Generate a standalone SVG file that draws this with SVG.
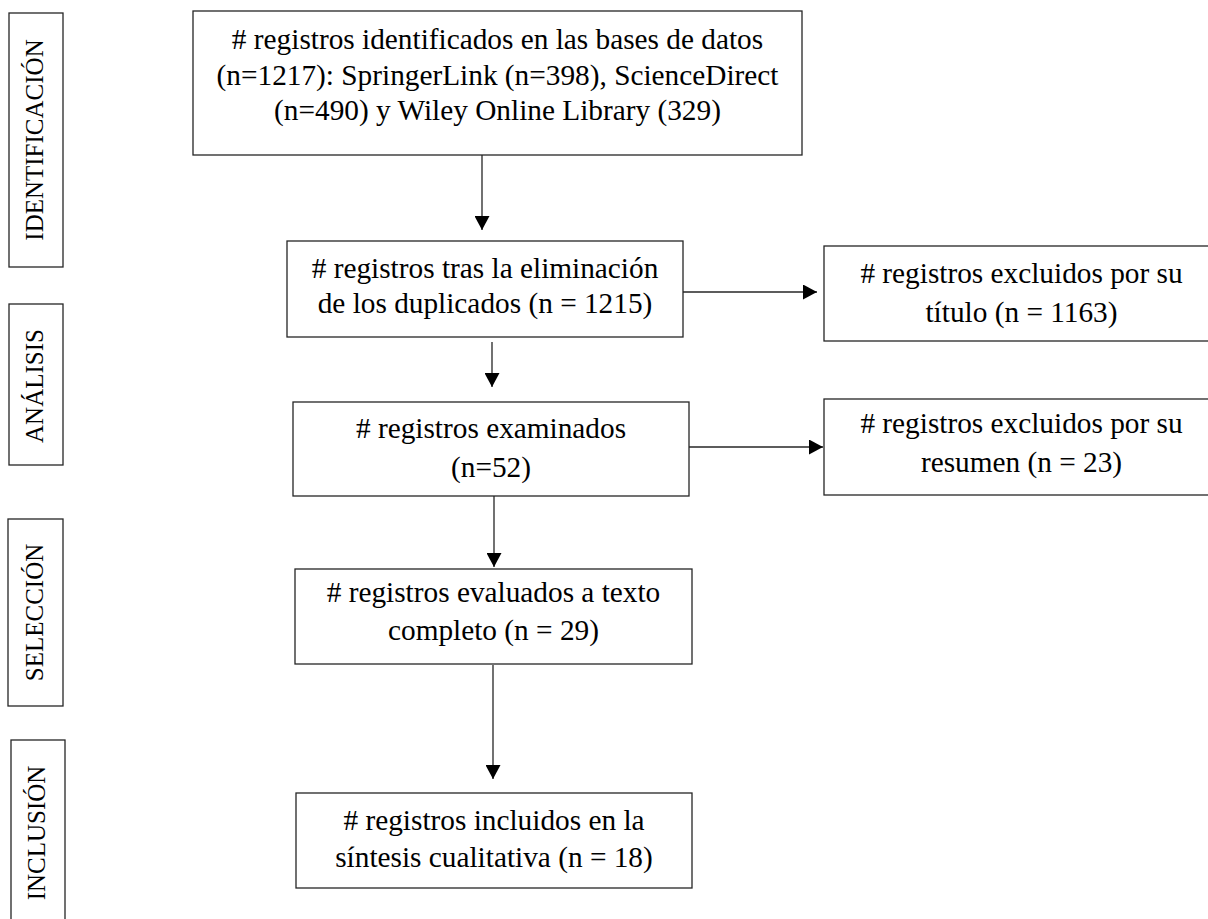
<svg xmlns="http://www.w3.org/2000/svg" width="1208" height="919" viewBox="0 0 1208 919">
<style>
.box{fill:#fff;stroke:#262626;stroke-width:1.3}
.t{font-family:"Liberation Serif","Times New Roman",serif;font-size:29.3px;fill:#000;text-anchor:middle}
.s{font-family:"Liberation Serif","Times New Roman",serif;font-size:25px;fill:#000;text-anchor:middle}
.c{stroke:#262626;stroke-width:1.3;fill:none;marker-end:url(#ah)}
</style>
<defs>
<marker id="ah" markerUnits="userSpaceOnUse" markerWidth="15" markerHeight="15" refX="14" refY="7.5" orient="auto">
<path d="M0,0 L14,7.5 L0,15 Z" fill="#000"/>
</marker>
</defs>
<rect width="1208" height="919" fill="#fff"/>
<g id="label-identificacion">
<rect class="box" x="9" y="13" width="54" height="254"/>
<text class="s" transform="translate(43,140) rotate(-90)">IDENTIFICACIÓN</text>
</g>
<g id="label-analisis">
<rect class="box" x="9" y="304" width="54" height="161"/>
<text class="s" transform="translate(43,386) rotate(-90)">ANÁLISIS</text>
</g>
<g id="label-seleccion">
<rect class="box" x="8" y="519" width="55" height="187"/>
<text class="s" transform="translate(43,612.5) rotate(-90)">SELECCIÓN</text>
</g>
<g id="label-inclusion">
<rect class="box" x="11" y="740" width="54" height="200"/>
<text class="s" transform="translate(45,833) rotate(-90)">INCLUSIÓN</text>
</g>
<g id="connectors">
<line class="c" x1="482" y1="155" x2="482" y2="230"/>
<line class="c" x1="683" y1="292" x2="817" y2="292"/>
<line class="c" x1="492" y1="342" x2="492" y2="387"/>
<line class="c" x1="689" y1="447" x2="823" y2="447"/>
<line class="c" x1="494" y1="496" x2="494" y2="567"/>
<line class="c" x1="493" y1="665" x2="493" y2="779"/>
</g>
<g id="n-identificados">
<rect class="box" x="193" y="11" width="609" height="144"/>
<text class="t" x="497.5" y="49">#&#160;registros identificados en las bases de datos</text>
<text class="t" x="497.5" y="85">(n=1217): SpringerLink (n=398), ScienceDirect</text>
<text class="t" x="497.5" y="120">(n=490) y Wiley Online Library (329)</text>
</g>
<g id="n-duplicados">
<rect class="box" x="287" y="241" width="396" height="96"/>
<text class="t" x="485" y="278">#&#160;registros tras la eliminación</text>
<text class="t" x="485" y="313">de los duplicados (n = 1215)</text>
</g>
<g id="n-examinados">
<rect class="box" x="293" y="402" width="396" height="94"/>
<text class="t" x="491" y="438">#&#160;registros examinados</text>
<text class="t" x="491" y="477">(n=52)</text>
</g>
<g id="n-evaluados">
<rect class="box" x="295" y="569" width="397" height="95"/>
<text class="t" x="493.5" y="602">#&#160;registros evaluados a texto</text>
<text class="t" x="493.5" y="640">completo (n = 29)</text>
</g>
<g id="n-incluidos">
<rect class="box" x="296" y="793" width="396" height="95"/>
<text class="t" x="494" y="830">#&#160;registros incluidos en la</text>
<text class="t" x="494" y="867">síntesis cualitativa (n = 18)</text>
</g>
<g id="n-excl-titulo">
<rect class="box" x="824" y="246" width="395" height="95"/>
<text class="t" x="1021.5" y="283">#&#160;registros excluidos por su</text>
<text class="t" x="1021.5" y="322">título (n = 1163)</text>
</g>
<g id="n-excl-resumen">
<rect class="box" x="824" y="399" width="395" height="96"/>
<text class="t" x="1021.5" y="433">#&#160;registros excluidos por su</text>
<text class="t" x="1021.5" y="472">resumen (n = 23)</text>
</g>
</svg>
